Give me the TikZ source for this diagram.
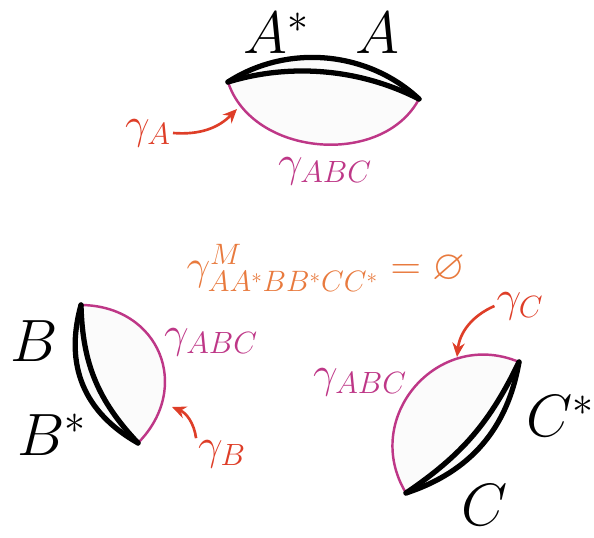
\RequirePackage{fix-cm}
\documentclass[tikz,border=0pt]{standalone}
\usepackage{amsmath,amssymb}
\usepackage{xcolor}
\usepackage{tikz}
\usetikzlibrary{arrows.meta}

\definecolor{geocol}{RGB}{190,55,135}
\definecolor{arrcol}{RGB}{222,62,40}
\definecolor{emwcol}{RGB}{232,122,62}

\begin{document}
\begin{tikzpicture}[
    x=0.02cm,y=0.02cm,
    cut/.style={line width=3pt,line cap=round,line join=round},
    geo/.style={draw=geocol,line width=1.4pt},
    shade/.style={fill=black!1.5,draw=none},
    big/.style={font=\fontsize{34}{40}\selectfont,inner sep=0pt},
    glab/.style={text=geocol,font=\fontsize{25}{30}\selectfont,inner sep=1pt},
    rlab/.style={text=arrcol,font=\fontsize{25}{30}\selectfont,inner sep=1pt},
    arr/.style={-{Stealth[length=8pt,width=7pt]},draw=arrcol,line width=1.5pt}
]
\useasboundingbox (0,0) rectangle (594,537);

% region A
\coordinate (aL) at (228,455);
\coordinate (aR) at (419,438);
\fill[shade] (aL) to[bend left=38,looseness=0.94] (aR)
    to[bend left=67,looseness=1.04] (aL);
\draw[geo] (aL) to[bend right=67,looseness=1.04] (aR);
\draw[cut] (aL) to[bend left=38,looseness=0.94] (aR);
\draw[cut] (aL) to[bend left=22,looseness=0.88] (aR);
\node[big,anchor=base] (astar) at (276,483) {$A^*$};
\node[big,anchor=base] (a) at (377,483) {$A$};
\node[glab] (gabcA) at (325,366) {$\gamma_{ABC}$};
\node[rlab] (gA) at (148,404) {$\gamma_A$};
\coordinate (tipA) at (237,428);
\draw[arr] (gA.east) to[bend right=25] (tipA);

% region B
\coordinate (bT) at (81,232);
\coordinate (bB) at (138,94);
\fill[shade] (bT) to[bend right=38,looseness=1.07] (bB)
    to[bend right=67,looseness=1.34] (bT);
\draw[geo] (bT) to[bend left=67,looseness=1.34] (bB);
\draw[cut] (bT) to[bend right=38,looseness=1.07] (bB);
\draw[cut] (bT) to[bend right=21] (bB);
\node[big,anchor=base] (b) at (34,175) {$B$};
\node[big,anchor=base] (bstar) at (52,82) {$B^*$};
\node[glab] (gabcB) at (211,195) {$\gamma_{ABC}$};
\node[rlab] (gB) at (222,83) {$\gamma_B$};
\coordinate (tipB) at (172,130);
\draw[arr] (gB.north west) to[bend right=30] (tipB);

% region C
\coordinate (cT) at (519,175);
\coordinate (cB) at (406,44);
\fill[shade] (cB) to[bend left=72,looseness=1.3] (cT)
    to[bend left=31] (cB);
\draw[geo] (cB) to[bend left=72,looseness=1.3] (cT);
\draw[cut] (cB) to[bend right=31] (cT);
\draw[cut] (cB) to[bend right=15] (cT);
\node[big,anchor=base] (c) at (485,12) {$C$};
\node[big,anchor=base] (cstar) at (560,100) {$C^*$};
\node[glab] (gabcC) at (360,155) {$\gamma_{ABC}$};
\node[rlab] (gC) at (520,231) {$\gamma_C$};
\coordinate (tipC) at (457,180);
\draw[arr] (gC.west) to[bend right=30] (tipC);

% middle
\node[text=emwcol,font=\fontsize{24}{29}\selectfont] (emw) at (326,269)
    {$\gamma^{M}_{AA^*BB^*CC^*}=\varnothing$};
\end{tikzpicture}
\end{document}
